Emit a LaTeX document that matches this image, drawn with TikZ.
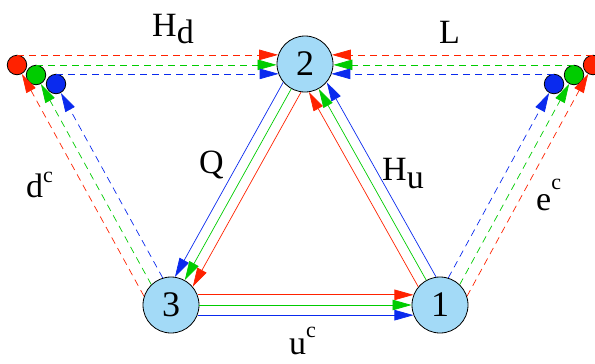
\documentclass[tikz,border=0pt]{standalone}
\usepackage{fontspec}
\setmainfont{Liberation Serif}
\usepackage{xcolor}
\definecolor{qred}{HTML}{FF2200}
\definecolor{qgreen}{HTML}{00CC00}
\definecolor{qblue}{HTML}{0A2AEE}
\definecolor{sitefill}{HTML}{A3DAF7}
\usetikzlibrary{arrows.meta}

\begin{document}
\begin{tikzpicture}[x=1bp,y=-1bp,>={Triangle[length=19bp,width=10.5bp]},
  every node/.style={font=\fontsize{34bp}{38bp}\selectfont},
  site/.style={draw=black,fill=sitefill,circle,line width=0.8bp,minimum size=56bp,inner sep=0pt,font=\fontsize{36bp}{40bp}\selectfont},
  dot/.style={draw=black,circle,line width=0.8bp,minimum size=19.5bp,inner sep=0pt},
  lbl/.style={anchor=base west,inner sep=0pt},
  flow/.style={line width=0.7bp},
  fdash/.style={line width=0.7bp,dash pattern=on 7bp off 5bp}]
\useasboundingbox (0,0) rectangle (595,363);
\node[site] (n2) at (305,64) {2};
\node[site] (n3) at (171,305) {3};
\node[site] (n1) at (440,305) {1};
\node[dot,fill=qred] (lr) at (17,65) {};
\node[dot,fill=qgreen] (lg) at (36,75) {};
\node[dot,fill=qblue] (lb) at (56,84) {};
\node[dot,fill=qred] (rr) at (593,65) {};
\node[dot,fill=qgreen] (rg) at (574,75) {};
\node[dot,fill=qblue] (rb) at (554,84) {};
% Q : 2 -> 3
\draw[flow,qblue,->] (n2.220) -- (n3.82);
\draw[flow,qgreen,->] (n2.241) -- (n3.61);
\draw[flow,qred,->] (n2.262) -- (n3.40);
% H_u : 1 -> 2
\draw[flow,qblue,->] (n1.98) -- (n2.320);
\draw[flow,qgreen,->] (n1.119) -- (n2.299);
\draw[flow,qred,->] (n1.140) -- (n2.278);
% u^c : 3 -> 1
\draw[flow,qred,->] (n3.21) -- (n1.159);
\draw[flow,qgreen,->] (n3.0) -- (n1.180);
\draw[flow,qblue,->] (n3.339) -- (n1.201);
% H_d and L
\draw[fdash,qred,->] (lr.north) -- (lr.north -| n2.161);
\draw[fdash,qgreen,->] (lg.north) -- (lg.north -| n2.182);
\draw[fdash,qblue,->] (lb.north) -- (lb.north -| n2.202);
\draw[fdash,qred,->] (rr.north) -- (rr.north -| n2.19);
\draw[fdash,qgreen,->] (rg.north) -- (rg.north -| n2.358);
\draw[fdash,qblue,->] (rb.north) -- (rb.north -| n2.338);
% d^c and e^c
\draw[fdash,qred,->] (n3.162) -- (lr);
\draw[fdash,qgreen,->] (n3.134) -- (lg);
\draw[fdash,qblue,->] (n3.107) -- (lb);
\draw[fdash,qred,->] (n1.18) -- (rr);
\draw[fdash,qgreen,->] (n1.46) -- (rg);
\draw[fdash,qblue,->] (n1.73) -- (rb);
% labels
\node[lbl] (hd) at (152,36) {H\raisebox{-0.21em}{d}};
\node[lbl] (el) at (439,43) {L};
\node[lbl] (qq) at (199,173) {Q};
\node[lbl] (hu) at (382,180) {H\raisebox{-0.26em}{u}};
\node[lbl] (dc) at (26,197) {d\raisebox{0.42em}{\fontsize{22bp}{24bp}\selectfont c}};
\node[lbl] (ec) at (536,210) {e\raisebox{0.6em}{\fontsize{22bp}{24bp}\selectfont c}};
\node[lbl] (uc) at (289,354) {u\raisebox{0.5em}{\fontsize{22bp}{24bp}\selectfont c}};
\end{tikzpicture}
\end{document}
